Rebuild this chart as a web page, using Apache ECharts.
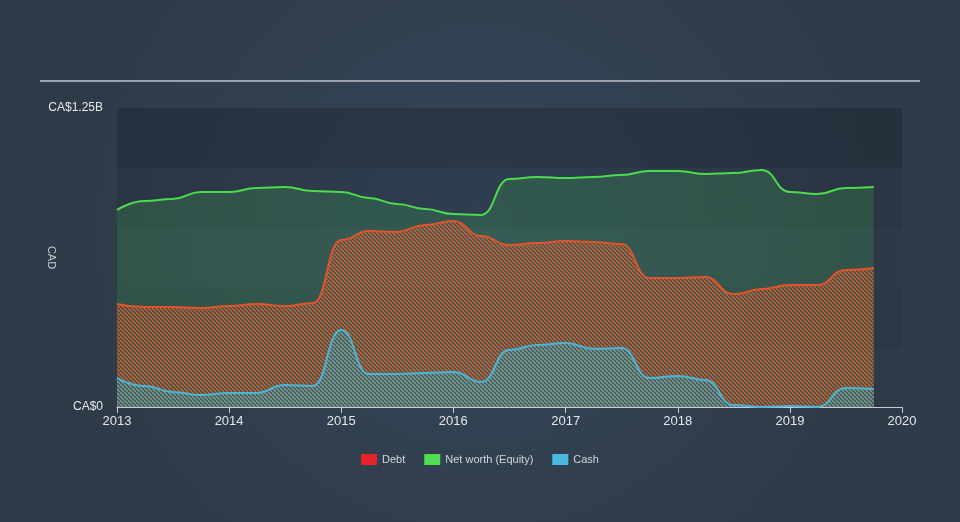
<!DOCTYPE html>
<html>
<head>
<meta charset="utf-8">
<script src="https://cdn.jsdelivr.net/npm/echarts@6/dist/echarts.min.js"></script>
<style>html,body{margin:0;padding:0;background:#313f4f;}#c{width:960px;height:522px;}</style>
</head>
<body>
<div id="c"></div>
<script>
const dates = ['2013-01-01','2013-04-01','2013-07-01','2013-10-01',
  '2014-01-01','2014-04-01','2014-07-01','2014-10-01',
  '2015-01-01','2015-04-01','2015-07-01','2015-10-01',
  '2016-01-01','2016-04-01','2016-07-01','2016-10-01',
  '2017-01-01','2017-04-01','2017-07-01','2017-10-01',
  '2018-01-01','2018-04-01','2018-07-01','2018-10-01',
  '2019-01-01','2019-04-01','2019-07-01','2019-10-01'];
// values in CA$ billions
const equity = [0.824,0.861,0.870,0.899,0.899,0.916,0.920,0.903,0.899,0.874,0.849,0.828,0.807,0.803,0.953,0.962,0.957,0.962,0.970,0.987,0.987,0.974,0.978,0.991,0.899,0.890,0.916,0.920];
const debt = [0.431,0.418,0.418,0.414,0.422,0.431,0.422,0.435,0.698,0.736,0.732,0.761,0.778,0.715,0.677,0.686,0.694,0.690,0.681,0.539,0.539,0.543,0.472,0.493,0.510,0.510,0.573,0.581];
const cash = [0.121,0.088,0.063,0.050,0.059,0.059,0.092,0.088,0.322,0.138,0.138,0.142,0.146,0.105,0.238,0.259,0.268,0.243,0.247,0.121,0.130,0.113,0.008,0.000,0.004,0.000,0.079,0.075];
const seriesNames = ['Debt','Net worth (Equity)','Cash'];
const yTickLabels = {0:'CA$0', 1.25:'CA$1.25B'};

function hatch(color, size, lw) {
  const c = document.createElement('canvas');
  c.width = size; c.height = size;
  const g = c.getContext('2d');
  g.strokeStyle = color; g.lineWidth = lw;
  g.beginPath();
  for (let o = -size; o <= size; o += size) { g.moveTo(o, 0); g.lineTo(o + size, size); }
  g.stroke();
  return c;
}
const pair = arr => dates.map((d, i) => [d, arr[i]]);

const chart = echarts.init(document.getElementById('c'));
chart.setOption({
  backgroundColor: new echarts.graphic.RadialGradient(0.5, 0.45, 0.75, [
    {offset: 0, color: '#35475a'}, {offset: 1, color: '#2f3b48'}]),
  animation: false,
  graphic: [{type: 'line', shape: {x1: 40, y1: 81, x2: 920, y2: 81}, style: {stroke: '#9aa3ad', lineWidth: 2}}],
  grid: {left: 117, right: 58, top: 108, bottom: 115},
  legend: {
    top: 449, left: 'center', icon: 'rect', itemWidth: 16, itemHeight: 11, itemGap: 19,
    textStyle: {color: '#d0d4d8', fontSize: 11, fontFamily: 'Liberation Sans, Arial, sans-serif'},
    data: [
      {name: seriesNames[0], itemStyle: {color: '#e8212a'}},
      {name: seriesNames[1], itemStyle: {color: '#4fde4f'}},
      {name: seriesNames[2], itemStyle: {color: '#49b9df'}}
    ]
  },
  xAxis: {
    type: 'time', min: '2013-01-01', max: '2020-01-01', splitNumber: 7,
    axisLine: {lineStyle: {color: '#c8ccd0', width: 1}},
    axisTick: {show: true, length: 6, lineStyle: {color: '#c8ccd0'}},
    splitLine: {show: false},
    axisLabel: {color: '#e4e6e8', fontSize: 13, margin: 8, showMinLabel: true, showMaxLabel: true,
      fontFamily: 'Liberation Sans, Arial, sans-serif',
      formatter: v => String(new Date(v).getUTCFullYear() + (new Date(v).getUTCMonth() >= 6 ? 1 : 0))}
  },
  yAxis: {
    type: 'value', min: 0, max: 1.25, interval: 0.25,
    name: 'CAD', nameLocation: 'middle', nameGap: 60, nameRotate: -90, nameMoveOverlap: false,
    nameTextStyle: {color: '#c8ccd0', fontSize: 11, fontFamily: 'Liberation Sans, Arial, sans-serif'},
    axisLine: {show: false}, axisTick: {show: false},
    splitLine: {show: false},
    splitArea: {show: true, areaStyle: {color: ['rgba(40,52,68,0.10)', 'rgba(28,38,52,0.18)', 'rgba(40,52,68,0.14)', 'rgba(28,38,52,0.22)', 'rgba(22,30,42,0.35)']}},
    axisLabel: {color: '#e4e6e8', fontSize: 12, margin: 14, fontFamily: 'Liberation Sans, Arial, sans-serif',
      formatter: v => yTickLabels[Math.round(v * 100) / 100] || ''}
  },
  series: [
    {name: seriesNames[1], type: 'line', data: pair(equity), showSymbol: false, smooth: true, smoothMonotone: 'x',
      z: 2, itemStyle: {color: '#4fde4f'}, lineStyle: {color: '#4cdb4c', width: 2},
      areaStyle: {color: 'rgba(72,205,88,0.26)', origin: 'start'}},
    {name: seriesNames[0], type: 'line', data: pair(debt), showSymbol: false, smooth: true, smoothMonotone: 'x',
      z: 3, itemStyle: {color: '#e8212a'}, lineStyle: {color: '#e0542e', width: 2},
      areaStyle: {color: {image: hatch('rgba(218,96,50,0.85)', 4, 1.6), repeat: 'repeat'}, origin: 'start', opacity: 1}},
    {name: seriesNames[2], type: 'line', data: pair(cash), showSymbol: false, smooth: true, smoothMonotone: 'x',
      z: 4, itemStyle: {color: '#49b9df'}, lineStyle: {color: '#4ab5d6', width: 2},
      areaStyle: {color: {image: hatch('rgba(80,170,190,0.75)', 4, 1.6), repeat: 'repeat'}, origin: 'start', opacity: 1}}
  ]
});
</script>
</body>
</html>
